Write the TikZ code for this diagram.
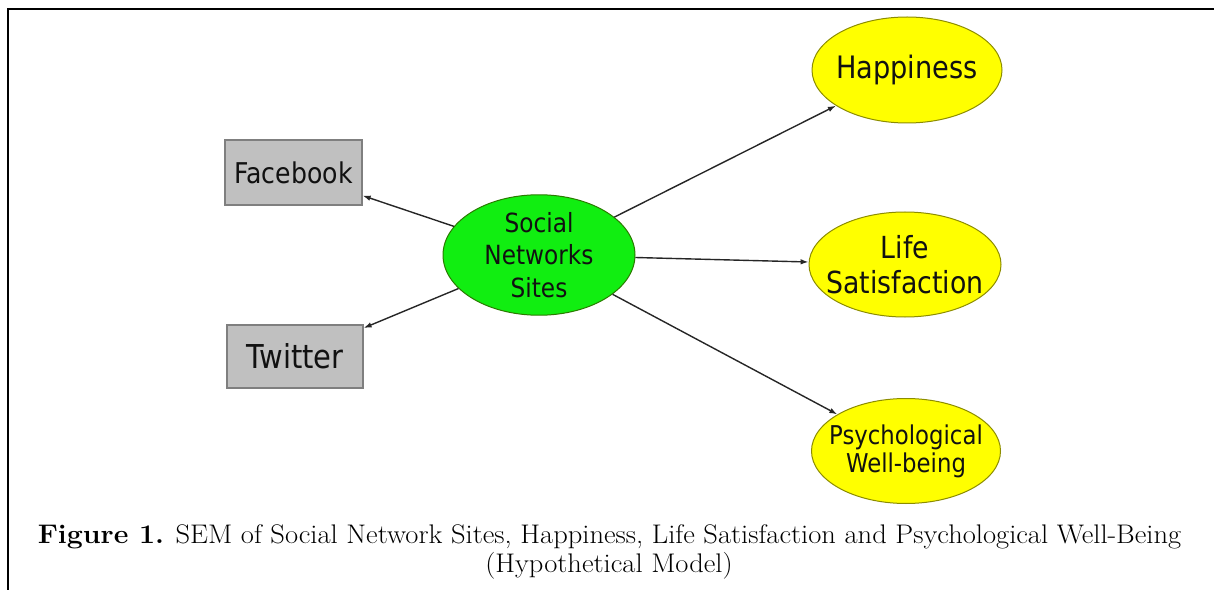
\documentclass[tikz,border=0pt]{standalone}
\usepackage{fontspec}
\setmainfont{Latin Modern Roman}[FakeStretch=1.06]
\newfontfamily\nodefont{DejaVu Sans}[FakeStretch=0.88]
\usetikzlibrary{shapes.geometric,arrows.meta}
\definecolor{boxgray}{HTML}{C0C0C0}
\definecolor{boxedge}{HTML}{7F7F7F}
\definecolor{snsgreen}{HTML}{11EE11}
\definecolor{snsedge}{HTML}{2A7A00}
\definecolor{latyellow}{HTML}{FFFF00}
\definecolor{latedge}{HTML}{8C8C00}
\definecolor{inktext}{HTML}{111111}
\newcommand{\zw}[1]{\makebox[0pt][c]{#1}}
\newcommand{\zwl}[2]{\raisebox{-#1}{\makebox[0pt][c]{#2}}}
\begin{document}
\begin{tikzpicture}[x=1bp,y=-1bp,
  conn/.style={draw=black!85, line width=1.4bp, -{Latex[length=8bp,width=5.5bp]}},
  sitebox/.style={draw=boxedge, fill=boxgray, line width=1.2bp, minimum width=137bp,
    minimum height=65bp, inner sep=0pt, text=inktext},
  latent/.style={ellipse, fill=latyellow, draw=latedge, line width=1bp, minimum width=190bp,
    minimum height=105bp, inner sep=0pt, align=center, text=inktext},
  captext/.style={anchor=base, inner sep=0pt, font=\fontsize{27}{29}\selectfont}
]
\useasboundingbox (0,0) rectangle (1214,590);
\draw[line width=2.6bp] (8,590) -- (8,9) -- (1214,9);

\node[sitebox, font=\nodefont\fontsize{28.7}{34}\selectfont] (fb) at (293.5,172.5) {Facebook};
\node[sitebox, minimum width=136bp, minimum height=63bp, font=\nodefont\fontsize{33}{38}\selectfont] (tw) at (295,356.5) {Twitter};

\node[latent, fill=snsgreen, draw=snsedge, minimum width=192bp, minimum height=104bp,
  font=\nodefont\fontsize{26.5}{32.5}\selectfont] (sns) at (539,255)
  {\zwl{4bp}{Social}\\\zwl{4bp}{Networks}\\\zwl{4bp}{Sites}};

\node[latent, minimum height=106bp, font=\nodefont\fontsize{31}{35}\selectfont] (hap) at (907,70) {\zw{Happiness}};
\node[latent, minimum width=192bp, font=\nodefont\fontsize{30.5}{35}\selectfont] (life) at (905,264.5) {\zw{Life}\\\zw{Satisfaction}};
\node[latent, minimum width=189bp, font=\nodefont\fontsize{26}{28}\selectfont] (psy) at (906,451)
  {\zwl{4bp}{Psychological}\\\zwl{4bp}{Well-being}};

\draw[conn] (sns) -- (fb);
\draw[conn] (sns) -- (tw);
\draw[conn] (sns) -- (hap);
\draw[conn] (sns) -- (life);
\draw[conn] (sns) -- (psy);

\node[captext] (cap1) at (609.5,543) {\textbf{Figure 1.} SEM of Social Network Sites, Happiness, Life Satisfaction and Psychological Well-Being};
\node[captext] (cap2) at (609,572) {(Hypothetical Model)};
\end{tikzpicture}
\end{document}
